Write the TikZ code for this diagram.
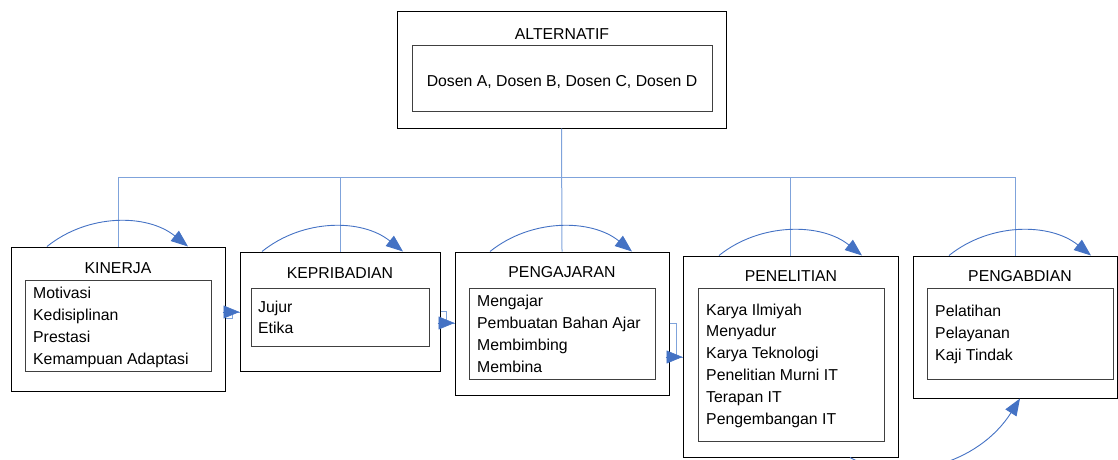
\documentclass[tikz,border=0pt]{standalone}
\usepackage{fontspec}
\setmainfont{Liberation Sans}
\usetikzlibrary{arrows.meta}
\definecolor{arcblue}{HTML}{4472C4}
\definecolor{treeblue}{HTML}{7FA3DB}
\definecolor{boxgray}{HTML}{404040}
\begin{document}
\begin{tikzpicture}[x=1pt,y=-1pt,
  obox/.style={draw=black, line width=1pt, inner sep=0pt},
  ibox/.style={draw=boxgray, line width=0.9pt, inner sep=0pt},
  lbl/.style={font=\fontsize{15.8}{19}\selectfont, inner sep=0pt, anchor=base},
  itm/.style={font=\fontsize{15.8}{19}\selectfont, inner sep=0pt, anchor=base west},
  tree/.style={draw=treeblue, line width=1pt},
  arcarrow/.style={draw=arcblue, line width=0.9pt, -{Triangle[length=17pt,width=13pt]}},
  elbow/.style={draw=treeblue, line width=1pt},
  tipst/.style={draw=arcblue, line width=0.5pt, -{Triangle[length=16pt,width=13pt,fill=arcblue]}}
]
\useasboundingbox (0,0) rectangle (1118,460);
\clip (0,0) rectangle (1118,460);

% ALTERNATIF
\node[obox, minimum width=329pt, minimum height=116pt] (alt) at (561.5,70) {};
\node[ibox, minimum width=300pt, minimum height=66pt] (alti) at (562,78) {};
\node[lbl] (altt) at (562,39.3) {ALTERNATIF};
\node[lbl] (altd) at (562,86) {Dosen A, Dosen B, Dosen C, Dosen D};

% KINERJA
\node[obox, minimum width=214pt, minimum height=144pt] (kin) at (118,319) {};
\node[ibox, minimum width=186pt, minimum height=91pt] (kini) at (118,325.5) {};
\node[lbl] (kint) at (118,273.3) {KINERJA};
\foreach \t [count=\i] in {Motivasi, Kedisiplinan, Prestasi, Kemampuan Adaptasi}
  \node[itm] (kin\i) at (33,{298.7+(\i-1)*21.8}) {\t};

% KEPRIBADIAN
\node[obox, minimum width=200pt, minimum height=119pt] (kep) at (340,311.5) {};
\node[ibox, minimum width=178pt, minimum height=58pt] (kepi) at (340,317) {};
\node[lbl] (kept) at (340,278.3) {KEPRIBADIAN};
\foreach \t [count=\i] in {Jujur, Etika}
  \node[itm] (kep\i) at (258,{312.3+(\i-1)*21.5}) {\t};

% PENGAJARAN
\node[obox, minimum width=214pt, minimum height=143pt] (peng) at (562,323.5) {};
\node[ibox, minimum width=186pt, minimum height=91pt] (pengi) at (562,333.5) {};
\node[lbl] (pengt) at (562,277.7) {PENGAJARAN};
\foreach \t [count=\i] in {Mengajar, Pembuatan Bahan Ajar, Membimbing, Membina}
  \node[itm] (peng\i) at (477,{306+(\i-1)*22}) {\t};

% PENELITIAN
\node[obox, minimum width=215pt, minimum height=201pt] (pen) at (790.5,356.5) {};
\node[ibox, minimum width=186pt, minimum height=153pt] (peni) at (791,364.5) {};
\node[lbl] (pent) at (791,281) {PENELITIAN};
\foreach \t [count=\i] in {Karya Ilmiyah, Menyadur, Karya Teknologi, Penelitian Murni IT, Terapan IT, Pengembangan IT}
  \node[itm] (pen\i) at (706,{315+(\i-1)*21.9}) {\t};

% PENGABDIAN
\node[obox, minimum width=204pt, minimum height=142pt] (pab) at (1015,327) {};
\node[ibox, minimum width=186pt, minimum height=91pt] (pabi) at (1020,333.5) {};
\node[lbl] (pabt) at (1020,281) {PENGABDIAN};
\foreach \t [count=\i] in {Pelatihan, Pelayanan, Kaji Tindak}
  \node[itm] (pab\i) at (935,{316.7+(\i-1)*22}) {\t};

% tree connectors
\coordinate (bus) at (562,177);
\draw[tree] (alt.south) -- (peng.north);
\draw[tree] (kin.north |- bus) -- (pab.north |- bus);
\draw[tree] (kin.north |- bus) -- (kin.north);
\draw[tree] (kep.north |- bus) -- (kep.north);
\draw[tree] (pen.north |- bus) -- (pen.north);
\draw[tree] (pab.north |- bus) -- (pab.north);

% arcs over boxes
\draw[arcarrow] ([xshift=-71pt]kin.north) .. controls +(41,-33) and +(-41,-33) .. ([xshift=70pt]kin.north);
\draw[arcarrow] ([xshift=-78pt]kep.north) .. controls +(41,-33) and +(-41,-33) .. ([xshift=63pt]kep.north);
\draw[arcarrow] ([xshift=-72pt]peng.north) .. controls +(41,-33) and +(-41,-33) .. ([xshift=70pt]peng.north);
\draw[arcarrow] ([xshift=-71.5pt]pen.north) .. controls +(41,-33) and +(-41,-33) .. ([xshift=71.5pt]pen.north);
\draw[arcarrow] ([xshift=-66pt]pab.north) .. controls +(41,-33) and +(-41,-33) .. ([xshift=76pt]pab.north);

% elbow connectors between boxes
\path (kin.east |- 0,318) coordinate (e1a) (kep.west |- 0,312) coordinate (e1b);
\draw[elbow] (e1a) -- ++(7,0) |- (e1b);
\draw[tipst] ([xshift=-17pt]e1b) -- (e1b);

\path (kep.east |- 0,311) coordinate (e2a) (peng.west |- 0,323) coordinate (e2b);
\draw[elbow] (e2a) -- ++(6,0) |- (e2b);
\draw[tipst] ([xshift=-17pt]e2b) -- (e2b);

\path (peng.east |- 0,323) coordinate (e3a) (pen.west |- 0,357) coordinate (e3b);
\draw[elbow] (e3a) -- ++(7,0) |- (e3b);
\draw[tipst] ([xshift=-17pt]e3b) -- (e3b);

% bottom curve
\draw[arcarrow] ([xshift=59.5pt]pen.south) .. controls (900,485) and (978,465) .. ([xshift=5pt]pab.south);
\end{tikzpicture}
\end{document}
